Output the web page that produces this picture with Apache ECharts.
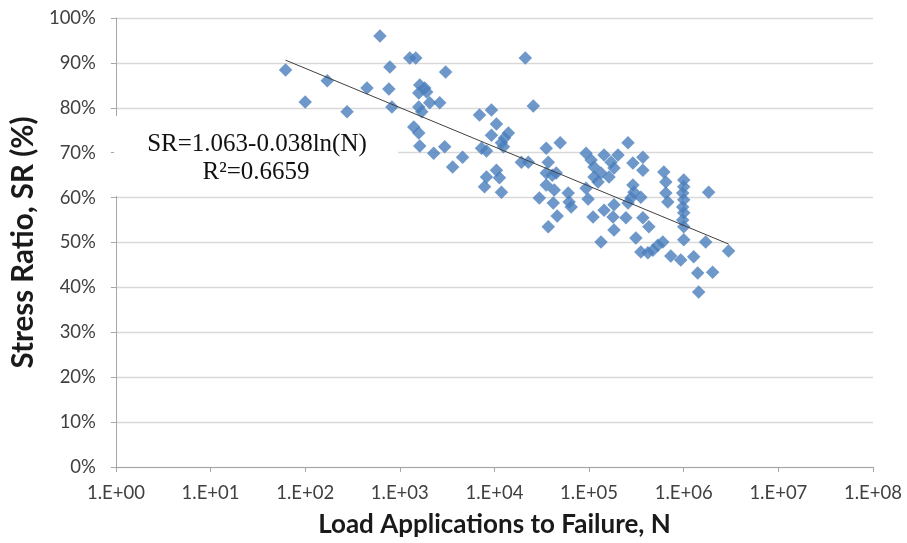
<!DOCTYPE html>
<html>
<head>
<meta charset="utf-8">
<script src="https://cdn.jsdelivr.net/npm/echarts/dist/echarts.min.js"></script>
<style>
  html, body { margin: 0; padding: 0; background: #fff; }
  #chart { width: 907px; height: 543px; }
</style>
</head>
<body>
<div id="chart"></div>
<script>
// Fatigue test results: load applications to failure vs. stress ratio
const cycles = [
  62, 100, 171, 277, 450, 616, 785, 766, 824, 1274, 1473, 3050, 1625, 1833, 1585, 1924,
  2069, 2637, 1585, 1706, 1404, 1585, 1625, 2279, 2978, 3612, 4605, 6950, 9296, 10500,
  9296, 7298, 8237, 14030, 12740, 11850, 12440, 21190, 25750, 10500, 8237, 7850, 11850,
  11290, 19240, 22790, 35270, 49520, 37000, 35270, 40800, 44970, 35270, 42830, 29770,
  41780, 60100, 61540, 64700, 46030, 37000,
  92960, 105000, 112900, 143900, 170600, 201900, 183300, 133700, 162400, 112900, 124400,
  257600, 290400, 370000, 370000, 92960, 97600, 290400, 297700, 352400, 276700, 257600,
  110200, 143900, 183300, 179000, 245000, 183300, 370000, 428300, 133700, 312300, 352400,
  417800, 471900, 532600, 601300, 615600, 646800, 646800, 679000, 1000000, 1000000,
  975000, 1000000, 975000, 1000000, 975000, 1000000, 1000000, 1833000, 1706000, 2978000,
  729800, 929700, 1274000, 1404000, 2019000, 1438000
];
const stressRatio = [
  88.4, 81.3, 86.0, 79.1, 84.4, 96.0, 89.1, 84.2, 80.2, 91.1, 91.1, 88.0, 85.1, 84.4, 83.3, 83.5,
  81.1, 81.1, 80.2, 79.1, 75.7, 74.4, 71.5, 69.9, 71.3, 66.8, 69.0, 78.4, 79.5, 76.4,
  73.9, 71.0, 70.4, 74.4, 73.3, 72.2, 71.3, 91.1, 80.4, 66.1, 64.6, 62.4, 61.2,
  64.4, 67.9, 67.9, 71.0, 72.2, 67.9, 65.5, 65.0, 65.5, 62.8, 61.7, 59.9,
  58.8, 61.0, 59.0, 57.9, 55.9, 53.5,
  69.9, 68.4, 66.8, 69.5, 67.9, 69.5, 66.6, 65.5, 64.6, 64.6, 63.5,
  72.2, 67.7, 69.0, 66.1, 62.1, 59.7, 62.8, 61.2, 60.1, 59.9, 58.8,
  55.7, 57.2, 58.4, 55.7, 55.5, 52.8, 55.5, 53.5, 50.1, 51.0, 47.9,
  47.7, 48.3, 49.4, 50.1, 65.7, 63.5, 61.0, 59.0, 63.9, 62.4,
  61.0, 59.5, 57.9, 56.6, 55.0, 53.5, 50.6, 61.2, 50.1, 48.1,
  47.0, 46.1, 46.8, 43.2, 43.4, 39.0
];

// Logarithmic fit: SR = a - b ln(N)
const fitA = 1.063;
const fitB = 0.038;
const fitR2 = 0.6659;

const xTickLabels = ['1.E+00', '1.E+01', '1.E+02', '1.E+03', '1.E+04', '1.E+05', '1.E+06', '1.E+07', '1.E+08'];
const yTickLabels = ['0%', '10%', '20%', '30%', '40%', '50%', '60%', '70%', '80%', '90%', '100%'];

const points = cycles.map((n, i) => [n, stressRatio[i]]);
const nMin = Math.min(...cycles);
const nMax = Math.max(...cycles);
const fitAt = n => (fitA - fitB * Math.log(n)) * 100;
const trend = [[nMin, fitAt(nMin)], [nMax, fitAt(nMax)]];

const labelFont = 'Lato, "Open Sans", sans-serif';
const axisGray = '#a6a6a6';
const eqFont = '25px "Liberation Serif", "Times New Roman", serif';

const chart = echarts.init(document.getElementById('chart'), null, { renderer: 'canvas' });
chart.setOption({
  animation: false,
  backgroundColor: '#ffffff',
  grid: { left: 113, right: 34, top: 18, bottom: 76, containLabel: false },
  xAxis: {
    type: 'log',
    logBase: 10,
    min: 1,
    max: 1e8,
    interval: 1,
    name: 'Load Applications to Failure, N',
    nameLocation: 'middle',
    nameGap: 45,
    nameTextStyle: { fontFamily: labelFont, fontWeight: 'bold', fontSize: 26, color: '#1a1a1a' },
    axisLine: { show: true, lineStyle: { color: axisGray, width: 1 } },
    axisTick: { show: true, length: 5, lineStyle: { color: axisGray } },
    axisLabel: {
      margin: 17,
      fontFamily: labelFont,
      fontSize: 18.5,
      color: '#404040',
      formatter: v => xTickLabels[Math.round(Math.log10(v))]
    },
    splitLine: { show: false },
    minorTick: { show: false }
  },
  yAxis: {
    type: 'value',
    min: 0,
    max: 100,
    interval: 10,
    name: 'Stress Ratio, SR (%)',
    nameLocation: 'middle',
    nameRotate: 90,
    nameGap: 74,
    nameTextStyle: { fontFamily: labelFont, fontWeight: 'bold', fontSize: 29.5, color: '#1a1a1a' },
    axisLine: { show: true, lineStyle: { color: axisGray, width: 1 } },
    axisTick: { show: true, length: 5, lineStyle: { color: axisGray } },
    axisLabel: {
      margin: 20,
      fontFamily: labelFont,
      fontSize: 18.5,
      color: '#404040',
      formatter: v => yTickLabels[Math.round(v / 10)]
    },
    splitLine: { show: true, lineStyle: { color: '#d9d9d9', width: 1.3 } }
  },
  graphic: [
    {
      type: 'rect',
      z: 1,
      shape: { x: 114, y: 116, width: 284, height: 80 },
      style: { fill: '#ffffff' }
    },
    {
      type: 'text',
      z: 1,
      x: 257, y: 144,
      style: {
        text: 'SR=' + fitA.toFixed(3) + '-' + fitB.toFixed(3) + 'ln(N)',
        font: eqFont,
        fill: '#111111',
        align: 'center',
        verticalAlign: 'middle'
      }
    },
    {
      type: 'text',
      z: 1,
      x: 256, y: 172,
      style: {
        text: 'R\u00B2=' + fitR2.toFixed(4),
        font: eqFont,
        fill: '#111111',
        align: 'center',
        verticalAlign: 'middle'
      }
    }
  ],
  series: [
    {
      name: 'Test data',
      type: 'scatter',
      z: 2,
      symbol: 'diamond',
      symbolSize: 13.5,
      itemStyle: { color: '#4a7ebb' },
      data: points
    },
    {
      name: 'Log trend',
      type: 'line',
      z: 3,
      symbol: 'none',
      silent: true,
      lineStyle: { color: '#404040', width: 1 },
      data: trend
    }
  ]
});
</script>
</body>
</html>
